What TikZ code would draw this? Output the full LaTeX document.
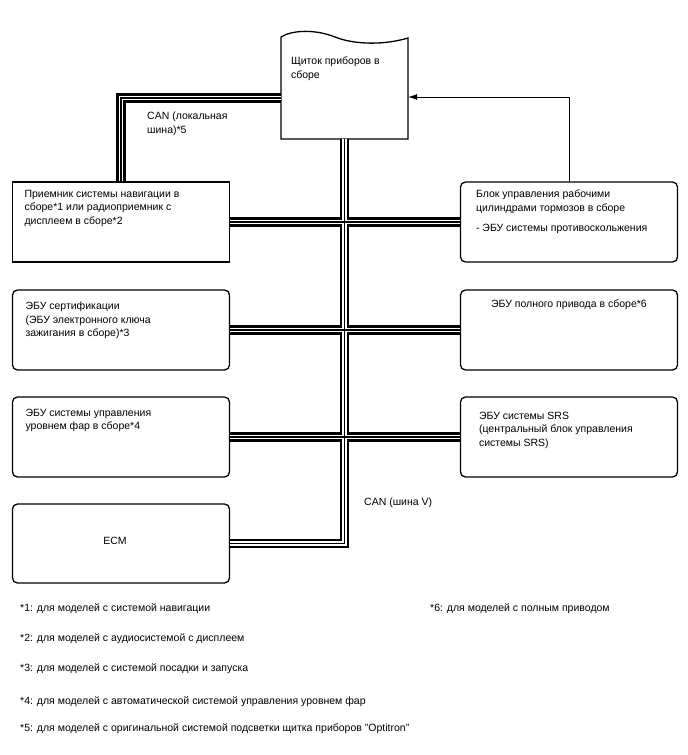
\documentclass[tikz,border=0pt]{standalone}
\usepackage{fontspec}
\setmainfont{Liberation Sans}
\usetikzlibrary{positioning, arrows.meta}

\begin{document}
\begin{tikzpicture}[x=1pt, y=-1pt,
        unit/.style={draw, line width=1.3pt, rounded corners=5pt, minimum width=217pt,
                     minimum height=80pt, inner sep=0pt},
        txt/.style={font=\fontsize{10.5}{13.5}\selectfont, align=left, inner sep=0pt, anchor=north west},
        bus/.style={line width=9.5pt, postaction={draw=white, line width=4.6pt},
                    postaction={draw=black, line width=1.1pt}},
        arr/.style={-{Latex[length=9pt, width=6pt]}, line width=0.7pt}
    ]
        \useasboundingbox (0,0) rectangle (688,755);

        % combination meter (wavy top)
        \node[minimum width=127pt, minimum height=102pt, inner sep=0pt] (panel) at (344.5, 88) {};
        \draw[line width=1.3pt] (281, 139) -- (281, 37)
            .. controls (292, 30) and (315, 29) .. (335, 37)
            .. controls (355, 45) and (385, 45) .. (408, 38) -- (408, 139) -- cycle;
        \node[txt, below right=20pt and 10pt of panel.north west] (panel-t) {Щиток приборов в\\сборе};

        % left column
        \node[unit, sharp corners] (nav) at (121, 222) {};
        \node[unit] (cert) at (121, 330) {};
        \node[unit] (lamp) at (121, 437) {};
        \node[unit, minimum height=79pt] (ecm) at (121, 543.5) {};
        \node[txt, below right=8.5pt and 12.5pt of nav.north west] (nav-t)
            {Приемник системы навигации в\\сборе*1 или радиоприемник с\\дисплеем в сборе*2};
        \node[txt, below right=12.5pt and 13.5pt of cert.north west] (cert-t)
            {ЭБУ сертификации\\(ЭБУ электронного ключа\\зажигания в сборе)*3};
        \node[txt, below right=12.5pt and 13.5pt of lamp.north west] (lamp-t)
            {ЭБУ системы управления\\уровнем фар в сборе*4};
        \node[txt, anchor=center] (ecm-t) at ([xshift=-6pt, yshift=3pt]ecm.center) {ECM};

        % right column
        \node[unit] (brake) at (569, 222) {};
        \node[unit] (awd) at (569, 330) {};
        \node[unit] (srs) at (569, 437) {};
        \node[txt, below right=8.5pt and 16pt of brake.north west] (brake-t)
            {Блок управления рабочими\\цилиндрами тормозов в сборе\\[6.5pt]- ЭБУ системы противоскольжения};
        \node[txt, below right=10.5pt and 31pt of awd.north west] (awd-t) {ЭБУ полного привода в сборе*6};
        \node[txt, below right=15.5pt and 19pt of srs.north west] (srs-t)
            {ЭБУ системы SRS\\(центральный блок управления\\системы SRS)};

        % bus labels
        \node[txt] (can-local) at (147, 112) {CAN (локальная\\шина)*5};
        \node[txt] (can-v) at (364, 497.5) {CAN (шина V)};

        % CAN lines
        \draw[bus] ([yshift=-10pt]panel.west) -| (nav.north)
                   (nav.east) -- (brake.west)
                   (cert.east) -- (awd.west)
                   (lamp.east) -- (srs.west)
                   (panel.south) |- (ecm.east);
        \draw[arr] (brake.north) |- ([yshift=-9pt]panel.east);

        % notes
        \node[txt] (note1) at (20, 603) {*1: для моделей с системой навигации};
        \node[txt] (note6) at (430, 603) {*6: для моделей с полным приводом};
        \node[txt] (note2) at (20, 633) {*2: для моделей с аудиосистемой с дисплеем};
        \node[txt] (note3) at (20, 663) {*3: для моделей с системой посадки и запуска};
        \node[txt] (note4) at (20, 696) {*4: для моделей с автоматической системой управления уровнем фар};
        \node[txt] (note5) at (20, 723) {*5: для моделей с оригинальной системой подсветки щитка приборов "Optitron"};
\end{tikzpicture}
\end{document}
